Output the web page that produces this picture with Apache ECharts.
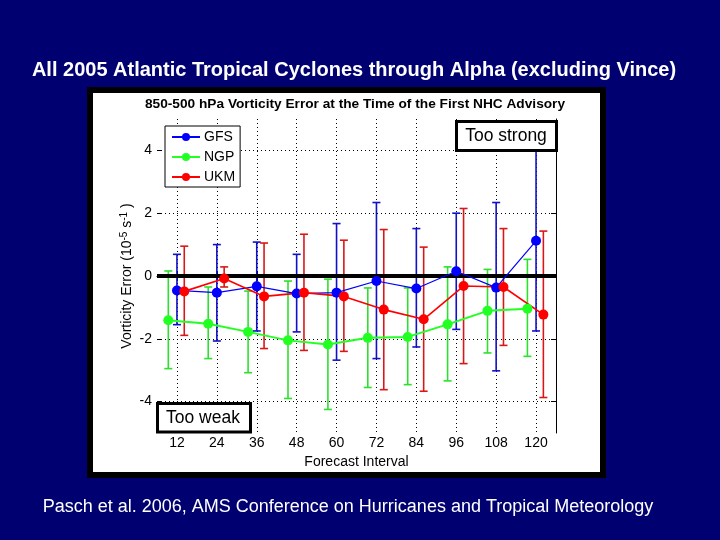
<!DOCTYPE html>
<html>
<head>
<meta charset="utf-8">
<script src="https://cdn.jsdelivr.net/npm/echarts@6/dist/echarts.min.js"></script>
<style>
html,body{margin:0;padding:0;background:#000070;}
#main{width:720px;height:540px;}
</style>
</head>
<body>
<div id="main"></div>
<script>
// forecast hours (x axis)
var hours = [12, 24, 36, 48, 60, 72, 84, 96, 108, 120];
// mean error and error bar ends (10^-5 s^-1)
var gfsMean = [-0.46, -0.53, -0.33, -0.56, -0.53, -0.16, -0.40, 0.15, -0.37, 1.12];
var gfsHigh = [0.69, 1.00, 1.08, 0.69, 1.67, 2.34, 1.51, 2.00, 2.34, 4.80];
var gfsLow  = [-1.55, -2.07, -1.75, -1.78, -2.68, -2.63, -2.26, -1.70, -3.02, -1.75];

var ngpMean = [-1.41, -1.52, -1.78, -2.05, -2.18, -1.97, -1.94, -1.54, -1.11, -1.04];
var ngpHigh = [0.16, -0.35, -0.48, -0.16, -0.10, -0.38, -0.38, 0.29, 0.21, 0.53];
var ngpLow  = [-2.95, -2.63, -3.08, -3.90, -4.25, -3.55, -3.46, -3.34, -2.45, -2.56];

var ukmMean = [-0.49, -0.08, -0.65, -0.53, -0.65, -1.07, -1.38, -0.32, -0.35, -1.23];
var ukmHigh = [0.95, 0.29, 1.05, 1.33, 1.14, 1.48, 0.92, 2.15, 1.51, 1.43];
var ukmLow  = [-1.89, -0.35, -2.31, -2.37, -2.40, -3.62, -3.67, -2.79, -2.21, -3.87];

var xTicks = [12, 24, 36, 48, 60, 72, 84, 96, 108, 120];
var yTicks = [-4, -2, 0, 2, 4];

// small horizontal shift so the three models don't sit on top of each other
var OFF_GFS = 0, OFF_NGP = -2.6, OFF_UKM = 2.2;

var FONT = '"Liberation Sans", Arial, sans-serif';

function points(mean, off) {
	return hours.map(function (h, i) { return [h + off, mean[i]]; });
}
function bars(low, high, off) {
	return hours.map(function (h, i) { return [h + off, low[i], high[i]]; });
}

// error bar drawing: vertical line + caps
function renderBar(params, api) {
	var x = api.value(0);
	var top = api.coord([x, api.value(2)]);
	var bot = api.coord([x, api.value(1)]);
	var cap = 4;
	var st = { stroke: api.visual('color'), lineWidth: 1.6 };
	return {
		type: 'group',
		children: [
			{ type: 'line', shape: { x1: top[0], y1: top[1], x2: bot[0], y2: bot[1] }, style: st },
			{ type: 'line', shape: { x1: top[0] - cap, y1: top[1], x2: top[0] + cap, y2: top[1] }, style: st },
			{ type: 'line', shape: { x1: bot[0] - cap, y1: bot[1], x2: bot[0] + cap, y2: bot[1] }, style: st }
		]
	};
}

function barSeries(name, low, high, off, color) {
	return {
		name: name + ' range',
		type: 'custom',
		renderItem: renderBar,
		data: bars(low, high, off),
		encode: { x: 0, y: [1, 2] },
		itemStyle: { color: color },
		z: 2,
		silent: true
	};
}
function lineSeries(name, mean, off, color, width) {
	return {
		name: name,
		type: 'line',
		data: points(mean, off),
		symbol: 'circle',
		symbolSize: 10,
		lineStyle: { color: color, width: width },
		itemStyle: { color: color },
		z: 4
	};
}

var myChart = echarts.init(document.getElementById('main'));

var zeroLine = barSeries('GFS', gfsLow, gfsHigh, OFF_GFS, '#1010c8');
zeroLine.markLine = {
	silent: true,
	symbol: 'none',
	label: { show: false },
	lineStyle: { color: '#000', width: 4, type: 'solid' },
	data: [{ yAxis: 0 }],
	z: 3
};

var option = {
	backgroundColor: '#000070',
	animation: false,
	grid: { left: 157, right: 164, top: 119, bottom: 107, outerBoundsMode: 'none' },
	legend: {
		data: ['GFS', 'NGP', 'UKM'],
		orient: 'vertical',
		left: 165,
		top: 126,
		itemWidth: 28,
		itemHeight: 10,
		itemGap: 6,
		padding: [4, 5, 3, 6],
		backgroundColor: '#fff',
		borderColor: '#000',
		borderWidth: 1,
		borderRadius: 0,
		textStyle: { fontFamily: FONT, fontSize: 14, color: '#000', padding: [0, 0, 0, -1] }
	},
	xAxis: [{
		type: 'value',
		min: 6,
		max: 126,
		position: 'bottom',
		name: 'Forecast Interval',
		nameLocation: 'middle',
		nameGap: 20,
		nameTextStyle: { fontFamily: FONT, fontSize: 14, color: '#000' },
		axisLine: { show: false },
		axisTick: { show: true, inside: true, length: 5, customValues: xTicks, lineStyle: { color: '#000' } },
		axisLabel: { customValues: xTicks, fontFamily: FONT, fontSize: 14, color: '#000', margin: 3 },
		splitLine: { show: true, lineStyle: { color: '#000', width: 1, type: [1, 3] } }
	}, {
		type: 'value',
		min: 6,
		max: 126,
		position: 'top',
		axisLine: { show: true, lineStyle: { color: '#000', width: 1 } },
		axisTick: { show: true, inside: true, length: 5, customValues: xTicks, lineStyle: { color: '#000' } },
		axisLabel: { show: false },
		splitLine: { show: false }
	}],
	yAxis: [{
		type: 'value',
		min: -5,
		max: 5,
		position: 'left',
		name: '{a|Vorticity Error (10}{s|-5}{a| s}{s|-1}{a| )}',
		nameLocation: 'middle',
		nameRotate: 90,
		nameGap: 21,
		nameMoveOverlap: false,
		nameTextStyle: {
			rich: {
				a: { fontFamily: FONT, fontSize: 14, color: '#000' },
				s: { fontFamily: FONT, fontSize: 10, color: '#000', verticalAlign: 'top', padding: [0, 0, 7, 0] }
			}
		},
		axisLine: { show: false },
		axisTick: { show: true, inside: true, length: 5, customValues: yTicks, lineStyle: { color: '#000' } },
		axisLabel: { customValues: yTicks, fontFamily: FONT, fontSize: 14, color: '#000', margin: 5 },
		splitLine: { show: true, lineStyle: { color: '#000', width: 1, type: [1, 3] } }
	}, {
		type: 'value',
		min: -5,
		max: 5,
		position: 'right',
		axisLine: { show: true, lineStyle: { color: '#000', width: 1 } },
		axisTick: { show: true, inside: true, length: 5, customValues: yTicks, lineStyle: { color: '#000' } },
		axisLabel: { show: false },
		splitLine: { show: false }
	}],
	series: [
		zeroLine,
		barSeries('NGP', ngpLow, ngpHigh, OFF_NGP, '#2ee02e'),
		barSeries('UKM', ukmLow, ukmHigh, OFF_UKM, '#d81818'),
		lineSeries('GFS', gfsMean, OFF_GFS, '#0000ff', 1.2),
		lineSeries('NGP', ngpMean, OFF_NGP, '#22ff22', 2),
		lineSeries('UKM', ukmMean, OFF_UKM, '#ff0000', 1.6)
	],
	graphic: [
		// white figure panel with black frame
		{ type: 'rect', z: -10, shape: { x: 90, y: 90, width: 513, height: 385 },
			style: { fill: '#fff', stroke: '#000', lineWidth: 6 } },
		{ type: 'text', z: 10, style: { text: 'All 2005 Atlantic Tropical Cyclones through Alpha (excluding Vince)',
			x: 354, y: 70, textAlign: 'center', textVerticalAlign: 'middle',
			font: 'bold 20px ' + FONT, fill: '#fff' } },
		{ type: 'text', z: 10, style: { text: '850-500 hPa Vorticity Error at the Time of the First NHC Advisory',
			x: 355, y: 104, textAlign: 'center', textVerticalAlign: 'middle',
			font: 'bold 13.7px ' + FONT, fill: '#000' } },
		{ type: 'text', z: 10, style: { text: 'Pasch et al. 2006, AMS Conference on Hurricanes and Tropical Meteorology',
			x: 348, y: 507, textAlign: 'center', textVerticalAlign: 'middle',
			font: '18px ' + FONT, fill: '#fff' } },
		// annotation boxes
		{ type: 'rect', z: 100, shape: { x: 456.5, y: 121.5, width: 100, height: 29 },
			style: { fill: '#fff', stroke: '#000', lineWidth: 3 } },
		{ type: 'text', z: 101, style: { text: 'Too strong', x: 506, y: 136, textAlign: 'center',
			textVerticalAlign: 'middle', font: '17.5px ' + FONT, fill: '#000' } },
		{ type: 'rect', z: 100, shape: { x: 157.5, y: 403.5, width: 93, height: 28.5 },
			style: { fill: '#fff', stroke: '#000', lineWidth: 3 } },
		{ type: 'text', z: 101, style: { text: 'Too weak', x: 203, y: 418, textAlign: 'center',
			textVerticalAlign: 'middle', font: '17.5px ' + FONT, fill: '#000' } }
	]
};

if (option && typeof option === 'object') {
	myChart.setOption(option, true);
}
</script>
</body>
</html>
